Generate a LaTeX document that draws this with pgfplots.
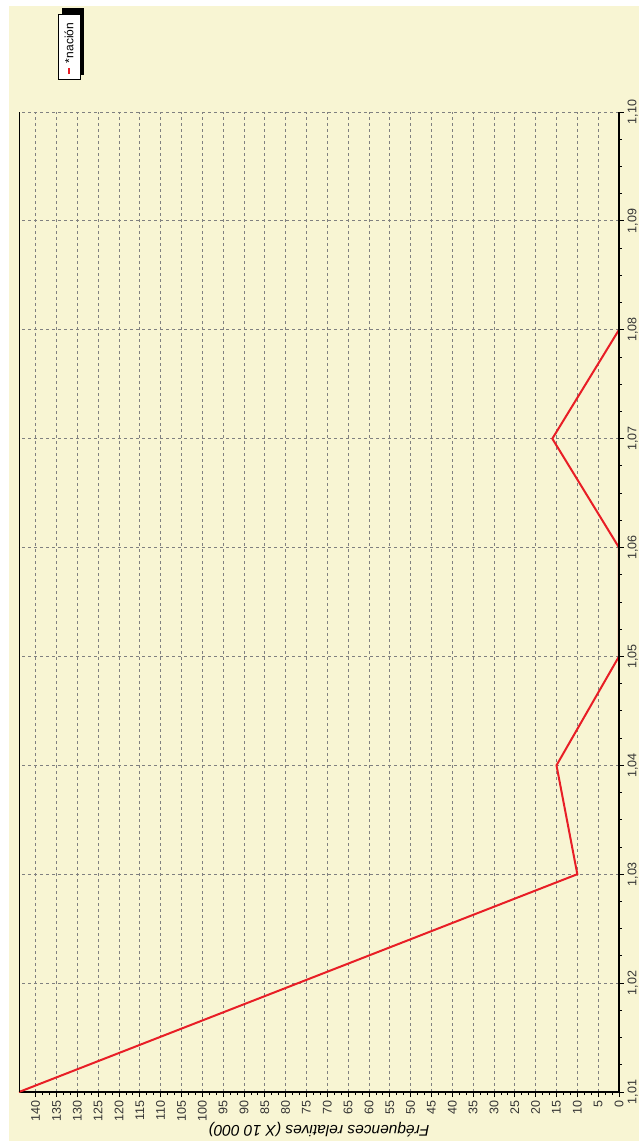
\documentclass[border=0pt]{standalone}
\usepackage{pgfplots}
\pgfplotsset{compat=1.18}
\usepackage{fontspec}
\setmainfont{Liberation Sans}
\definecolor{bgcream}{RGB}{248,245,211}
\definecolor{linered}{RGB}{232,30,38}
\begin{document}
\begin{tikzpicture}[x=1pt,y=1pt]
\fill[white] (0,0) rectangle (639,1141);
\fill[bgcream] (9,0) rectangle (639,1135);
\begin{axis}[
  at={(19pt,49pt)}, anchor=south west,
  width=600pt, height=980pt, scale only axis,
  x dir=reverse,
  xmin=0, xmax=144, ymin=1.01, ymax=1.10,
  axis x line=bottom, axis y line=right,
  axis line style={-},
  x axis line style={black, line width=2pt},
  y axis line style={black, line width=2pt},
  xtick={0,5,...,140},
  ytick={1.01,1.02,1.03,1.04,1.05,1.06,1.07,1.08,1.09,1.10},
  minor y tick num=3,
  minor x tick num=2,
  tick align=outside,
  major tick length=5pt, minor tick length=3pt,
  tick style={black, line width=0.8pt},
  grid=major,
  major grid style={gray, dash pattern=on 3pt off 3pt, line width=0.8pt},
  /pgf/number format/assume math mode=true,
  xticklabel style={rotate=90, anchor=east, font=\fontsize{12.5}{12.5}\selectfont, color=black!80},
  yticklabel style={rotate=90, anchor=north, font=\fontsize{12.5}{12.5}\selectfont, color=black!80,
     /pgf/number format/.cd, fixed, fixed zerofill, precision=2, use comma},
  xlabel={Fréquences relatives (X 10 000)},
  xlabel style={rotate=180, anchor=center, at={(axis description cs:0.5,-0.038)}, font=\itshape\fontsize{15.5}{15.5}\selectfont},
  clip=true,
]
\addplot[linered, line width=2pt] coordinates {(144,1.01)(77,1.02)(10,1.03)(15,1.04)(0,1.05)(0,1.06)(16,1.07)(0,1.08)};
\draw[black, line width=2pt] (axis cs:0,1.01) -- (axis cs:0,1.10);
\draw[black, line width=0.8pt] (axis cs:144,1.01) -- (axis cs:144,1.10);
\end{axis}
\fill[black] (62,1066) rectangle (84,1133);
\node[draw=black, fill=white, rotate=90, line width=0.8pt, inner xsep=5pt, inner ysep=0pt, minimum height=22pt] at (69,1094.5)
  {\fontsize{12}{12}\selectfont{\color{linered}\rule[0.3em]{6pt}{2pt}}\hspace{5pt}*nación\hspace*{4pt}};
\end{tikzpicture}
\end{document}
